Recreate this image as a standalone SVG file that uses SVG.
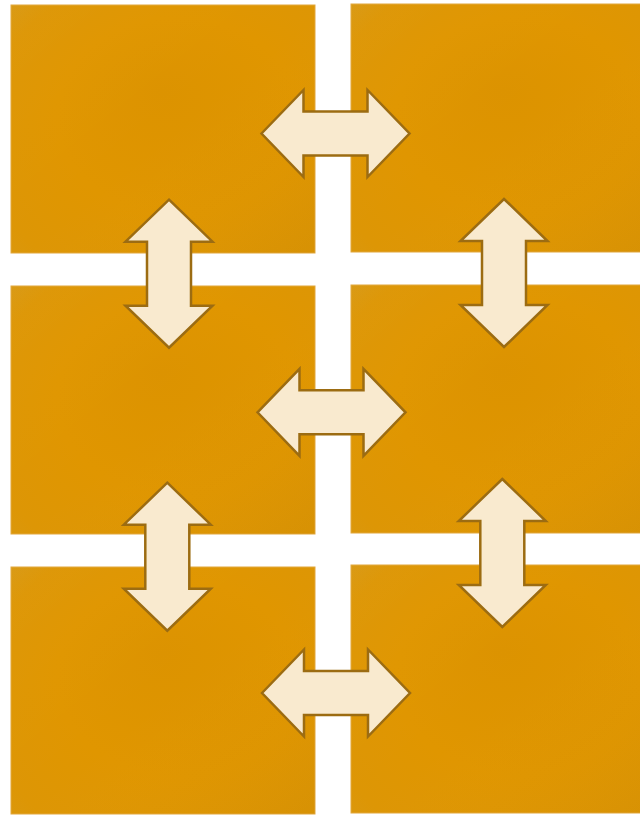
<svg xmlns="http://www.w3.org/2000/svg" xmlns:xlink="http://www.w3.org/1999/xlink" width="640" height="815" viewBox="0 0 640 815">
  <defs>
    <radialGradient id="tileFill" cx="0.6" cy="0.55" r="0.8" fx="0.5" fy="0.35">
      <stop offset="0" stop-color="#dc9300"/>
      <stop offset="0.5" stop-color="#e09600"/>
      <stop offset="0.85" stop-color="#dd9605"/>
      <stop offset="1" stop-color="#d99810"/>
    </radialGradient>
    <linearGradient id="tileShade" x1="0" y1="0" x2="1" y2="1">
      <stop offset="0" stop-color="#ffffff" stop-opacity="0.02"/>
      <stop offset="0.5" stop-color="#ffffff" stop-opacity="0"/>
      <stop offset="1" stop-color="#000000" stop-opacity="0.03"/>
    </linearGradient>
    <!-- double-headed block arrow, centred on the origin -->
    <path id="dblArrow" d="M-74,0 L-32,-43.5 L-32,-22 L32,-22 L32,-43.5 L74,0 L32,43.5 L32,22 L-32,22 L-32,43.5 Z"/>
  </defs>
  <style>
    .tile { fill: url(#tileFill); stroke: #e2a73c; stroke-width: 1; }
    .shade { fill: url(#tileShade); stroke: none; }
    .arrow { fill: #f9eacf; stroke: #9c6c12; stroke-width: 2.5; stroke-linejoin: miter; }
  </style>

  <rect width="640" height="815" fill="#ffffff"/>

  <g id="tile-r1-left"><rect class="tile" x="11" y="5" width="304" height="248"/><rect class="shade" x="11" y="5" width="304" height="248"/></g>
  <g id="tile-r1-right"><rect class="tile" x="351" y="4" width="304" height="248"/><rect class="shade" x="351" y="4" width="304" height="248"/></g>
  <g id="tile-r2-left"><rect class="tile" x="11" y="286" width="304" height="248"/><rect class="shade" x="11" y="286" width="304" height="248"/></g>
  <g id="tile-r2-right"><rect class="tile" x="351" y="285" width="304" height="248"/><rect class="shade" x="351" y="285" width="304" height="248"/></g>
  <g id="tile-r3-left"><rect class="tile" x="11" y="567" width="304" height="247"/><rect class="shade" x="11" y="567" width="304" height="247"/></g>
  <g id="tile-r3-right"><rect class="tile" x="351" y="565" width="304" height="248"/><rect class="shade" x="351" y="565" width="304" height="248"/></g>

  <g id="connectors">
    <use xlink:href="#dblArrow" class="arrow" transform="translate(335.5,133.5)"/>
    <use xlink:href="#dblArrow" class="arrow" transform="translate(331.5,412.3)"/>
    <use xlink:href="#dblArrow" class="arrow" transform="translate(336,693)"/>
    <use xlink:href="#dblArrow" class="arrow" transform="translate(169,273.7) rotate(90)"/>
    <use xlink:href="#dblArrow" class="arrow" transform="translate(504,273) rotate(90)"/>
    <use xlink:href="#dblArrow" class="arrow" transform="translate(167.3,556.7) rotate(90)"/>
    <use xlink:href="#dblArrow" class="arrow" transform="translate(502.3,553) rotate(90)"/>
  </g>
</svg>
